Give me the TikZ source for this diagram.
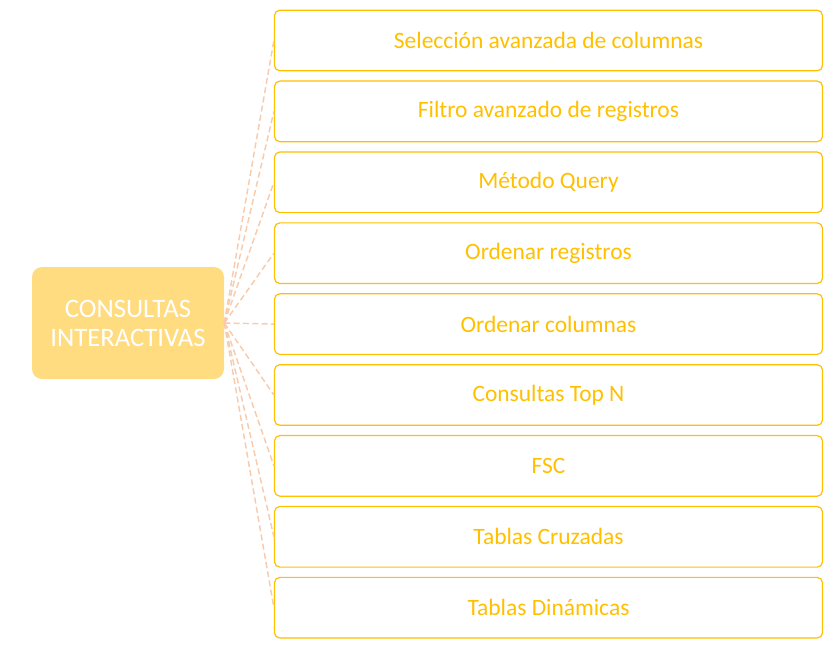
\documentclass[tikz,border=0pt]{standalone}
\usepackage{fontspec}
\setmainfont{Carlito}
\usepackage{tikz}
\definecolor{gold}{HTML}{FFC000}
\definecolor{paleGold}{HTML}{FFDC80}
\definecolor{peach}{HTML}{F8CBAD}

\begin{document}
\begin{tikzpicture}[x=0.75pt,y=-0.75pt]
		\useasboundingbox (0,0) rectangle (839,653);
		\node[fill=paleGold,rounded corners=7.5pt,minimum width=144pt,minimum height=84pt,
			text=white,align=center,font=\fontsize{20pt}{21.75pt}\selectfont] (Main) at (128,323) {CONSULTAS\\INTERACTIVAS};
		
		\begin{scope}[every node/.style={draw=gold,line width=0.9pt,fill=white,rounded corners=4pt,
			minimum width=411pt,minimum height=45.5pt,text=gold,font=\fontsize{17.6pt}{20pt}\selectfont}]
			\node (T1) at (548.5,40.5) {Selección avanzada de columnas};
			\node (T2) at (548.5,111.4) {Filtro avanzado de registros};
			\node (T3) at (548.5,182.3) {Método Query};
			\node (T4) at (548.5,253.2) {Ordenar registros};
			\node (T5) at (548.5,324.1) {Ordenar columnas};
			\node (T6) at (548.5,395.0) {Consultas Top N};
			\node (T7) at (548.5,465.9) {FSC};
			\node (T8) at (548.5,536.8) {Tablas Cruzadas};
			\node (T9) at (548.5,607.7) {Tablas Dinámicas};
		\end{scope}
		
		\begin{scope}[every edge/.style={draw=peach,line width=1.1pt,dash pattern=on 4.5pt off 2.5pt}]
			\path (Main.east) edge (T1.west);
			\path (Main.east) edge (T2.west);
			\path (Main.east) edge (T3.west);
			\path (Main.east) edge (T4.west);
			\path (Main.east) edge (T5.west);
			\path (Main.east) edge (T6.west);
			\path (Main.east) edge (T7.west);
			\path (Main.east) edge (T8.west);
			\path (Main.east) edge (T9.west);
		\end{scope}
	\end{tikzpicture}
\end{document}
